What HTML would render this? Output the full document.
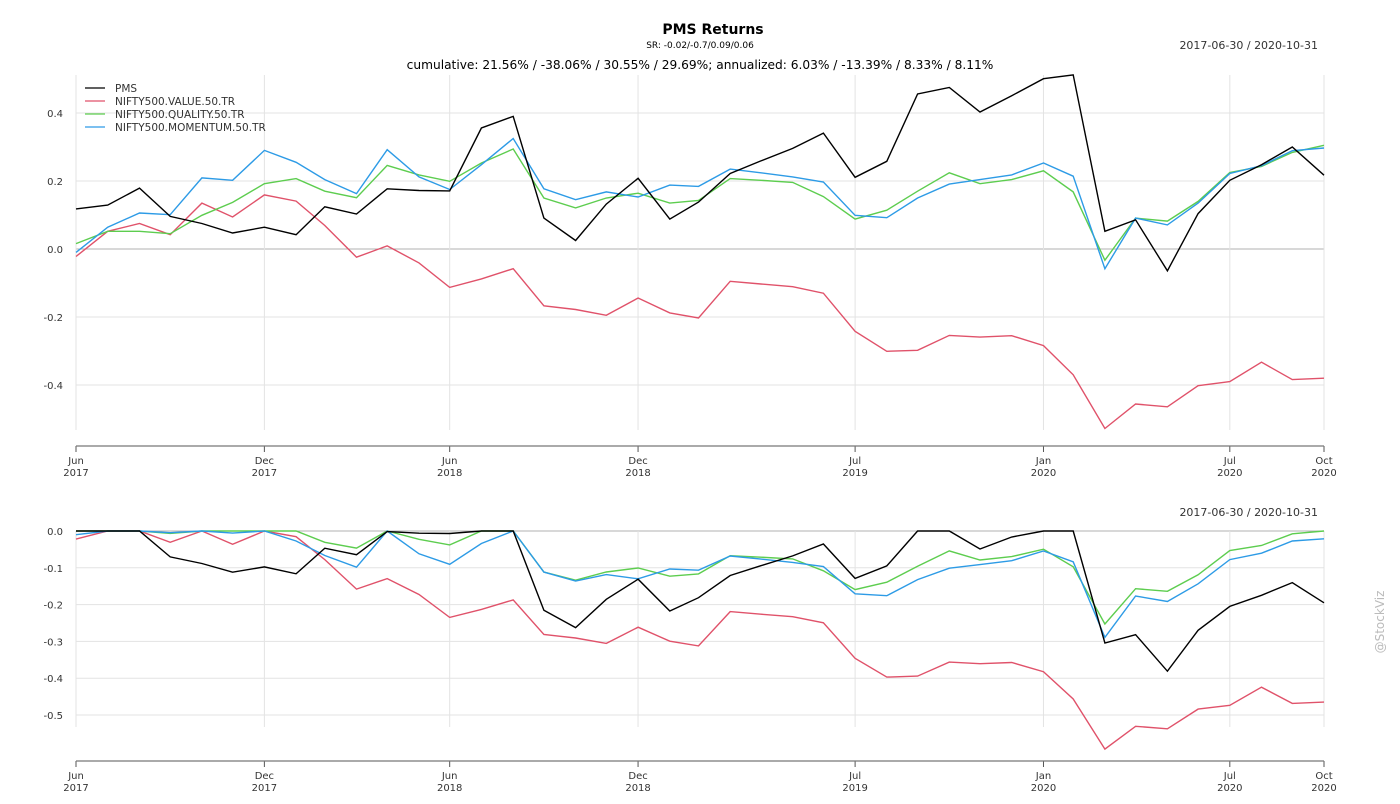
<!DOCTYPE html>
<html><head><meta charset="utf-8"><style>
body{margin:0;background:#fff;width:1400px;height:800px;overflow:hidden;font-family:"DejaVu Sans","Liberation Sans",sans-serif}
svg text{fill:#333}
</style></head><body>
<svg id="c" width="1400" height="800" xmlns="http://www.w3.org/2000/svg">
<text x="713" y="34" text-anchor="middle" font-size="14" font-weight="bold" style="fill:#000">PMS Returns</text>
<text x="700" y="48" text-anchor="middle" font-size="9" style="fill:#000">SR: -0.02/-0.7/0.09/0.06</text>
<text x="1318" y="49" text-anchor="end" font-size="11">2017-06-30 / 2020-10-31</text>
<text x="700" y="69" text-anchor="middle" font-size="12.2" style="fill:#000">cumulative: 21.56% / -38.06% / 30.55% / 29.69%; annualized: 6.03% / -13.39% / 8.33% / 8.11%</text>
<text x="1318" y="516" text-anchor="end" font-size="11">2017-06-30 / 2020-10-31</text>
<text transform="translate(1384,622) rotate(-90)" text-anchor="middle" font-size="12" style="fill:#bbb">@StockViz</text>
<g id="top"></g>
<g id="bot"></g>
<g>
<line x1="85" y1="88" x2="105" y2="88" stroke="#000" stroke-width="1.2"/><text x="115" y="92" font-size="10.5">PMS</text>
<line x1="85" y1="101" x2="105" y2="101" stroke="#e0526a" stroke-width="1.2"/><text x="115" y="105" font-size="10.5">NIFTY500.VALUE.50.TR</text>
<line x1="85" y1="114" x2="105" y2="114" stroke="#5dcd4f" stroke-width="1.2"/><text x="115" y="118" font-size="10.5">NIFTY500.QUALITY.50.TR</text>
<line x1="85" y1="127" x2="105" y2="127" stroke="#2d9be6" stroke-width="1.2"/><text x="115" y="131" font-size="10.5">NIFTY500.MOMENTUM.50.TR</text>
</g>
</svg>
<script>
const seriesNames=["PMS","NIFTY500.VALUE.50.TR","NIFTY500.QUALITY.50.TR","NIFTY500.MOMENTUM.50.TR"];
const pms=[.118,.129,.179,.096,.075,.047,.064,.042,.124,.103,.177,.172,.171,.356,.390,.091,.025,.132,.208,.088,.138,.222,.259,.296,.341,.211,.258,.456,.475,.403,.451,.501,.512,.052,.086,-.064,.104,.202,.248,.300,.217];
const value=[-.022,.052,.075,.042,.135,.094,.159,.141,.069,-.024,.009,-.041,-.113,-.088,-.058,-.167,-.178,-.195,-.144,-.188,-.203,-.095,-.103,-.111,-.130,-.242,-.301,-.298,-.254,-.259,-.255,-.284,-.370,-.528,-.456,-.464,-.402,-.390,-.333,-.384,-.380];
const quality=[.016,.052,.052,.045,.099,.137,.192,.207,.170,.151,.246,.218,.199,.253,.294,.150,.121,.150,.164,.135,.143,.207,.202,.196,.154,.088,.114,.170,.224,.192,.204,.230,.168,-.033,.091,.082,.140,.225,.243,.284,.305];
const momentum=[-.010,.064,.106,.101,.209,.202,.290,.255,.204,.163,.292,.212,.175,.248,.325,.177,.145,.168,.153,.188,.184,.235,.224,.212,.197,.099,.092,.150,.191,.204,.218,.253,.214,-.058,.091,.071,.135,.222,.245,.289,.297];
const topTicks=[0.4,0.2,0.0,-0.2,-0.4];
const botTicks=[0.0,-0.1,-0.2,-0.3,-0.4,-0.5];
const xTickMonths=[[2017,5],[2017,11],[2018,5],[2018,11],[2019,6],[2020,0],[2020,6],[2020,9]];
const xTickLabels=[["Jun","2017"],["Dec","2017"],["Jun","2018"],["Dec","2018"],["Jul","2019"],["Jan","2020"],["Jul","2020"],["Oct","2020"]];
const NS="http://www.w3.org/2000/svg";
function me(y,m){return Date.UTC(y,m+1,0);}
const t0=me(2017,5),t1=me(2020,9);
function x(t){return 76+(t-t0)/(t1-t0)*1248;}
const dates=pms.map((_,i)=>me(2017,5+i));
function el(p,tag,a){const e=document.createElementNS(NS,tag);for(const k in a)e.setAttribute(k,a[k]);p.appendChild(e);return e;}
function dd(arr){let pk=1;return arr.map(v=>{pk=Math.max(pk,1+v);return (1+v)/pk-1;});}
function panel(g,y0,k,ticks,gTop,gBot,axisY,series,cols,names){
  const y=v=>y0-v*k;
  ticks.forEach((t,i)=>{
    const l=el(g,'line',{x1:76,x2:1324,y1:y(t),y2:y(t),stroke:t===0?'#b0b0b0':'#e3e3e3','stroke-width':1});
    
    
    const tx=el(g,'text',{x:63,y:y(t)+4,'text-anchor':'end','font-size':10});
    
    
    tx.textContent=t.toFixed(1);
  });
  xTickMonths.forEach((m,i)=>{
    const xx=x(me(m[0],m[1]));
    const l=el(g,'line',{x1:xx,x2:xx,y1:gTop,y2:gBot,stroke:'#e3e3e3','stroke-width':1});
    
    
    const tk=el(g,'line',{x1:xx,x2:xx,y1:axisY,y2:axisY+6,stroke:'#555','stroke-width':1});
    
    
    const t1e=el(g,'text',{x:xx,y:axisY+18,'text-anchor':'middle','font-size':10});
    
    
    t1e.textContent=xTickLabels[i][0];
    const t2e=el(g,'text',{x:xx,y:axisY+30,'text-anchor':'middle','font-size':10});
    
    
    t2e.textContent=xTickLabels[i][1];
  });
  const ax=el(g,'line',{x1:76,x2:1324,y1:axisY,y2:axisY,stroke:'#777','stroke-width':1.2});
  
  
  series.forEach((s,si)=>{
    const d=s.map((v,i)=>(i?'L':'M')+x(dates[i]).toFixed(1)+','+y(v).toFixed(1)).join('');
    const p=el(g,'path',{d:d,fill:'none',stroke:cols[si],'stroke-width':1.4,'stroke-linejoin':'miter'});
    
    
  });
}
const cols=["#e0526a","#5dcd4f","#2d9be6","#000"];
panel(document.getElementById('top'),249,340,topTicks,75,430,446,[value,quality,momentum,pms],cols,['line-value','line-quality','line-momentum','line-pms']);
panel(document.getElementById('bot'),531,368,botTicks,531,727,761,[dd(value),dd(quality),dd(momentum),dd(pms)],cols,['drawdown-value','drawdown-quality','drawdown-momentum','drawdown-pms']);
</script>
</body></html>
